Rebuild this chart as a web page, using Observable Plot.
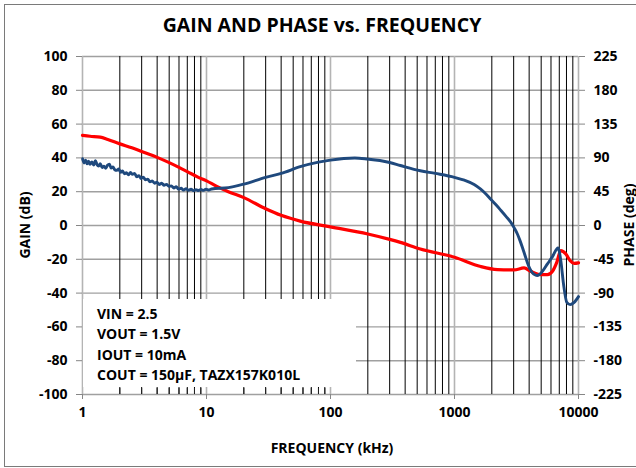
<!DOCTYPE html>
<html><head><meta charset="utf-8">
<script src="https://cdn.jsdelivr.net/npm/d3@7"></script>
<script src="https://cdn.jsdelivr.net/npm/@observablehq/plot@0.6"></script>
<style>
body{margin:0;background:#fff;}
#wrap{position:relative;width:636px;height:468px;overflow:hidden;font-family:"Open Sans",Lato,sans-serif;font-weight:bold;color:#000;}
#frame{position:absolute;left:4px;top:4px;width:700px;height:463px;border:1.5px solid #7a7a7a;box-sizing:border-box;}
#title{position:absolute;left:0;width:644px;top:11px;text-align:center;font-size:19.5px;}
#note{position:absolute;left:83px;top:299px;width:273px;height:88px;background:#fff;font-size:14px;line-height:20.4px;padding:5px 0 0 14px;box-sizing:border-box;}
#xlab{position:absolute;left:0;width:664px;top:438px;text-align:center;font-size:14px;}
.ylab{position:absolute;font-size:14px;white-space:nowrap;transform:translate(-50%,-50%) rotate(-90deg);}
#chart{position:absolute;left:0;top:0;}
</style></head>
<body>
<div id="wrap">
  <div id="frame"></div>
  <div id="chart"></div>
  <div id="title"></div>
  <div id="note"></div>
  <div id="xlab"></div>
  <div class="ylab" id="ylabL" style="left:24px;top:225px"></div>
  <div class="ylab" id="ylabR" style="left:628px;top:225px"></div>
</div>
<script>
// ---- data ----
const titleText = "GAIN AND PHASE vs. FREQUENCY";
const xTitle = "FREQUENCY (kHz)";
const yTitleLeft = "GAIN (dB)";
const yTitleRight = "PHASE (deg)";
const noteLines = ["VIN = 2.5", "VOUT = 1.5V", "IOUT = 10mA", "COUT = 150\u00B5F, TAZX157K010L"];

const gainTicks = [-100, -80, -60, -40, -20, 0, 20, 40, 60, 80, 100];
const phaseTicks = [-225, -180, -135, -90, -45, 0, 45, 90, 135, 180, 225];
const freqTicks = [1, 10, 100, 1000, 10000];
const minorFreq = [2,3,4,5,6,7,8,9,20,30,40,50,60,70,80,90,200,300,400,500,600,700,800,900,2000,3000,4000,5000,6000,7000,8000,9000];

// Gain (dB) vs frequency (kHz)
const gainFreq = [1.0, 1.15, 1.39, 1.6, 2.0, 2.5, 3.0, 4.0, 5.0, 6.0, 7.0, 8.6, 10, 12, 15, 20, 30, 40, 57, 100, 200, 300, 366, 530, 1000, 1626, 2220, 3020, 3640, 4120, 4960, 5620, 6170, 6680, 7200, 7890, 8560, 9220, 10000];
const gainDb   = [53.3, 52.8, 52.3, 50.9, 48.3, 46.0, 43.8, 40.3, 37.2, 34.4, 31.9, 28.5, 26.4, 23.3, 20.0, 16.5, 9.9, 6.0, 2.6, -0.8, -5.0, -8.2, -10.0, -13.9, -18.8, -24.3, -26.1, -26.3, -25.1, -27.1, -29.1, -29.1, -27.1, -21.8, -14.9, -16.8, -20.8, -22.4, -22.1];

// Phase (deg) vs frequency (kHz)
const phaseFreq = [1.00,1.03,1.06,1.09,1.12,1.15,1.19,1.23,1.27,1.31,1.35,1.39,1.44,1.49,1.54,1.59,1.65,1.70,1.76,1.82,1.89,1.96,2.03,2.10,2.18,2.26,2.35,2.44,2.53,2.63,2.74,2.85,2.97,3.09,3.22,3.36,3.50,3.65,3.81,3.98,4.16,4.35,4.55,4.76,4.98,5.21,5.45,5.70,5.96,6.24,6.53,6.84,7.16,7.50,7.85,8.22,8.61,9.02,9.45,9.90,10.4,11.0,15,20,30,40,57,80,100,157,200,250,300,366,530,700,1000,1200,1440,1626,1800,1960,2160,2360,2600,2840,3030,3215,3370,3530,3700,3873,4050,4250,4450,4665,5118,5620,6170,6840,7200,7570,8050,8560,9220,10000];
const phaseDeg  = [88.9,83.3,86.9,82.1,85.5,81.5,84.6,80.6,86.4,81.0,79.2,82.4,77.2,78.8,76.1,80.1,81.5,76.5,77.9,74.3,73.4,75.2,70.9,72.5,68.9,70.2,67.5,70.7,68.0,69.3,64.8,66.4,62.6,64.4,60.8,61.7,58.1,59.4,56.3,57.6,54.5,56.3,53.6,54.7,52.2,52.7,50.0,51.8,48.4,49.5,47.3,49.1,46.8,48.2,46.4,47.7,46.6,47.9,46.8,48.2,47.3,48.6,50.4,55.1,64.1,69.3,78.3,84.4,87.1,89.8,88.4,86.5,83.9,79.9,72.9,69.3,64.1,60.3,54.7,48.4,41.6,34.9,27.5,20.3,12.2,4.5,-3.2,-11.3,-19.8,-29.3,-39.6,-49.5,-57.4,-63.0,-65.5,-66.6,-61.0,-51.1,-41.4,-29.9,-46.8,-77.9,-102.4,-105.3,-102.4,-94.7];

// ---- build ----
const phaseToGain = 100 / 225;
const gainData = gainFreq.map((f, i) => ({f, v: gainDb[i]}));
const phaseData = phaseFreq.map((f, i) => ({f, v: phaseDeg[i] * phaseToGain}));

const W = 636, H = 468, mL = 82, mR = 58, mT = 56, mB = 74;
const innerH = H - mT - mB;
const font = "'Open Sans', Lato, sans-serif";

const chart = Plot.plot({
  width: W, height: H,
  marginLeft: mL, marginRight: mR, marginTop: mT, marginBottom: mB,
  x: {type: "log", domain: [1, 10000]},
  y: {domain: [-100, 100]},
  style: {fontFamily: font, fontWeight: "bold", fontSize: "14px", color: "#000", background: "transparent"},
  marks: [
    Plot.ruleY(gainTicks, {stroke: "#a0a0a0", strokeWidth: 1.4}),
    Plot.ruleX(minorFreq, {stroke: "#000", strokeWidth: 1}),
    Plot.ruleX(freqTicks, {stroke: "#b4b4b4", strokeWidth: 1.6}),
    Plot.line(gainData, {x: "f", y: "v", stroke: "#ff0000", strokeWidth: 3.2, curve: "monotone-x"}),
    Plot.line(phaseData, {x: "f", y: "v", stroke: "#1f497d", strokeWidth: 2.9, curve: "monotone-x"}),
    Plot.axisX(freqTicks, {anchor: "bottom", tickSize: 5, tickPadding: 8, stroke: "#868686", fill: "#000", tickFormat: d => String(d), label: null}),
    Plot.axisY(gainTicks, {anchor: "left", tickSize: 6, tickPadding: 9, stroke: "#868686", fill: "#000", tickFormat: d => String(d), label: null}),
    Plot.axisY(gainTicks, {anchor: "right", tickSize: 6, tickPadding: 9, stroke: "#868686", fill: "#000", tickFormat: (d, i) => String(phaseTicks[i]), label: null})
  ]
});
document.getElementById("chart").appendChild(chart);

// minor tick marks just inside the bottom axis (visible below the note box)
const ticks = Plot.plot({
  width: W, height: H,
  marginLeft: mL, marginRight: mR, marginTop: mT, marginBottom: mB,
  x: {type: "log", domain: [1, 10000], axis: null},
  y: {domain: [-100, 100], axis: null},
  style: {background: "transparent"},
  marks: [Plot.tickX(minorFreq.filter(f => f < 200), {x: d => d, insetTop: innerH - 6, stroke: "#222", strokeWidth: 1})]
});
ticks.style.position = "absolute"; ticks.style.left = "0"; ticks.style.top = "0"; ticks.style.zIndex = "3";
document.getElementById("wrap").appendChild(ticks);

document.getElementById("title").textContent = titleText;
document.getElementById("xlab").textContent = xTitle;
document.getElementById("ylabL").textContent = yTitleLeft;
document.getElementById("ylabR").textContent = yTitleRight;
document.getElementById("note").innerHTML = noteLines.map(t => `<div>${t}</div>`).join("");
</script>
</body></html>
